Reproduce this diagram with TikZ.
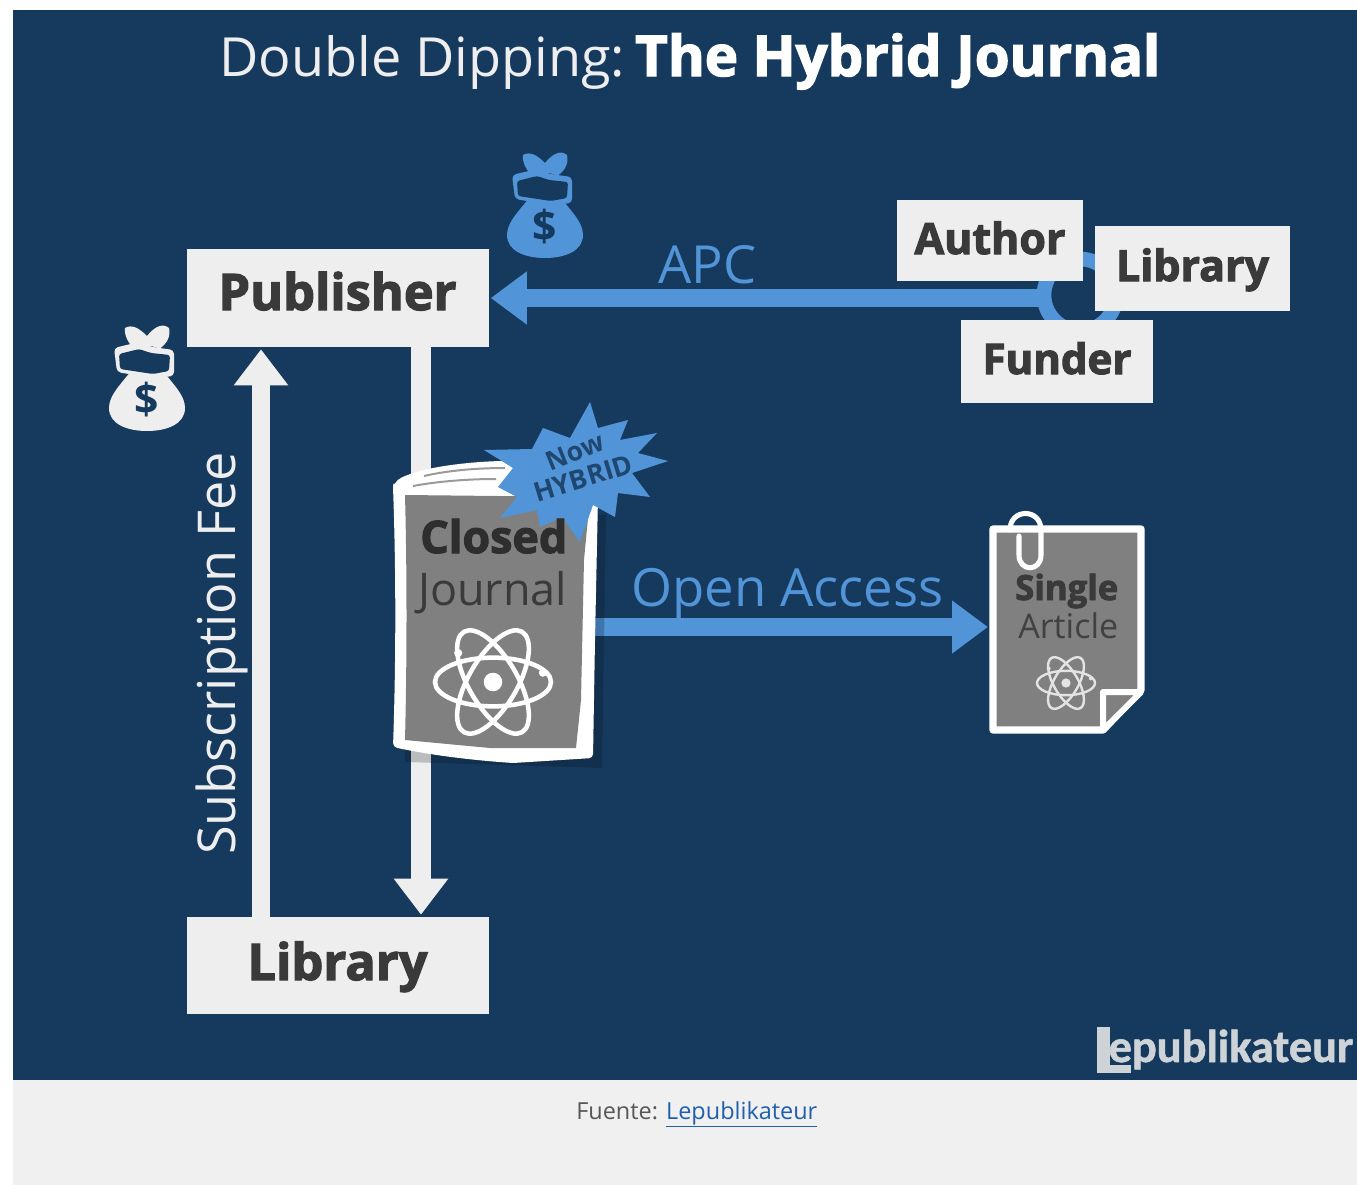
\documentclass[tikz,border=0pt]{standalone}
\usepackage{fontspec}
\usepackage{graphicx}
\usetikzlibrary{arrows.meta,calc,backgrounds}
\setmainfont{Open Sans}
\font\heavyf="Open Sans/B:embolden=2.5" at 30pt
\newfontfamily\logofont[BoldFeatures={FakeBold=1.2}]{Carlito}
\newcommand{\fitw}[2]{\resizebox{\dimexpr #1pt*3/4\relax}{!}{#2}}
\definecolor{navy}{HTML}{163A5E}
\definecolor{skyb}{HTML}{5294D8}
\definecolor{paper}{HTML}{EEEEEE}
\definecolor{ink}{HTML}{3A3A3A}
\definecolor{panel}{HTML}{808080}
\tikzset{
  pxbox/.style={fill=paper,inner sep=0pt,text=ink,align=center,font=\heavyf},
  label/.style={inner sep=0pt,anchor=base west,font=\fontsize{30}{30}\selectfont},
  fatw/.style={draw=paper,line width=13.5pt,-{Triangle[length=27pt,width=39pt]}},
  fatb/.style={draw=skyb,line width=13pt,-{Triangle[length=27pt,width=38pt]}},
  pics/moneybag/.style={code={
    \fill[#1] (-15,-8) .. controls (-28,8) and (-38,18) .. (-38,30) .. controls (-38,46) and (-20,53) .. (0,53) .. controls (20,53) and (38,46) .. (38,30) .. controls (38,18) and (28,8) .. (15,-8) -- cycle;
    \fill[#1,rounded corners=3pt] (-33,-30) -- (-8,-36) -- (5,-31) -- (27,-28) -- (27,-2) -- (6,0) -- (-30,-6) -- cycle;
    \fill[navy,rounded corners=2pt] (-28,-24) -- (-8,-29) -- (4,-25) -- (23,-23) -- (22,-7) -- (6,-4) -- (-27,-9) -- cycle;
    \fill[#1] (-22,-50) .. controls (-15,-54) and (-8,-50) .. (0,-42) .. controls (8,-52) and (16,-55) .. (22,-50) .. controls (24,-42) and (20,-34) .. (12,-29) .. controls (6,-33) and (-6,-34) .. (-12,-28) .. controls (-18,-34) and (-23,-42) .. (-22,-50) -- cycle;
    \node[inner sep=0pt,text=navy,font=\bfseries\fontsize{32}{32}\selectfont] at (0,22) {\$};
  }},
  pics/atom/.style n args={3}{code={
    \foreach \a in {0,60,-60}
      \draw[#1,line width=#2] (0,0) ellipse[x radius=#3,y radius=0.42*#3,rotate=\a];
    \fill[#1] (0,0) circle[radius=0.16*#3];
    \fill[#1] (-0.6*#3,-0.5*#3) circle[radius=0.07*#3];
    \fill[#1] (0.86*#3,-0.16*#3) circle[radius=0.07*#3];
  }}
}
\begin{document}
\begin{tikzpicture}[x=0.75pt,y=-0.75pt]
\useasboundingbox (0,0) rectangle (1357,1185);
% boxes
\node[pxbox,minimum width=226.5pt,text height=45.75pt,text depth=27.75pt] (publisher) at (337.5,298) {\fitw{238}{Publisher}};
\node[pxbox,minimum width=226.5pt,text height=47.25pt,text depth=25.5pt] (library) at (337.5,965.5) {\fitw{180}{Library}};
\node[pxbox,minimum width=139.5pt,text height=40.5pt,text depth=20.25pt] (author) at (990,240.5) {\fitw{151}{Author}};
\node[pxbox,minimum width=146.25pt,text height=41.25pt,text depth=22.5pt] (library2) at (1192.5,268.5) {\fitw{153}{Library}};
\node[pxbox,minimum width=144pt,text height=40.5pt,text depth=21.75pt] (funder) at (1057,361.5) {\fitw{149}{Funder}};
\coordinate (hub) at (1080,295);
\coordinate (apcstart) at (1042,298);
\coordinate (jright) at (594,627);
\coordinate (artleft) at (988,627);
\begin{pgfonlayer}{background}
  \fill[white] (0,0) rectangle (1357,1185);
  \fill[navy] (13,10) rectangle (1357,1080);
  \fill[black!6] (13,1080) rectangle (1357,1185);
  \draw[skyb,line width=11pt] (hub) circle[radius=36];
\end{pgfonlayer}
% title
\node[label,text=paper] (t1) at (219,76) {\fitw{406}{Double Dipping:}};
\node[label,text=white,font=\heavyf] (t2) at (635,76) {\fitw{525}{The Hybrid Journal}};
% connectors
\draw[fatb] (apcstart) -- ($(publisher.east |- apcstart)+(2,0)$);
\draw[fatw] ($(library.north)+(-76.5,0)$) -- ($(publisher.south)+(-76.5,2)$);
\draw[fatw,line width=15pt] ($(publisher.south)+(83.5,-2)$) -- ($(library.north)+(83.5,-2)$);
\draw[fatb] (jright) -- (artleft);
% labels
\node[label,text=skyb] (apc) at (658,283) {\fitw{98}{APC}};
\node[label,text=skyb] (oa) at (631,606) {\fitw{312}{Open Access}};
\node[label,text=paper,rotate=90] (sub) at (235,855) {\fitw{403}{Subscription Fee}};
% money bags
\pic at (545,205) {moneybag=skyb};
\pic at (147,378) {moneybag=paper};
% journal
\fill[black!80!navy,opacity=.22] (405,505) -- (606,515) -- (602,768) -- (405,762) -- cycle;
\fill[white,rounded corners=3pt] (393,487) .. controls (398,478) and (405,476) .. (413,473) .. controls (440,465) and (480,461) .. (510,461) -- (598,497) -- (595,640) -- (593,758) -- (513,763) .. controls (470,760) and (430,755) .. (393,747) .. controls (396,660) and (396,570) .. (393,487) -- cycle;
\fill[panel] (405,495) -- (590,497) -- (584,560) -- (581,700) -- (576,748) -- (490,748) -- (405,740) .. controls (407,660) and (407,570) .. (405,495) -- cycle;
\draw[panel!80!white,line width=1.5pt] (413,486) .. controls (440,481) and (470,479) .. (496,479);
\draw[panel!80!white,line width=1.5pt] (424,476) .. controls (450,470) and (480,468) .. (505,468);
% burst
\fill[skyb] (484,450) -- (532,449) -- (543,428) -- (570,438) -- (590,402) -- (598,428) -- (628,420) -- (620,440) -- (657,433) -- (638,453) -- (668,461) -- (632,473) -- (650,497) -- (618,493) -- (615,517) -- (593,505) -- (580,542) -- (562,517) -- (540,527) -- (537,510) -- (500,518) -- (517,497) -- (498,487) -- (513,468) -- cycle;
\node[inner sep=0pt,text=navy!85!skyb,rotate=22,font=\bfseries\fontsize{30}{30}\selectfont] (now) at (575,452) {\fitw{60}{Now}};
\node[inner sep=0pt,text=navy!85!skyb,rotate=17,font=\bfseries\fontsize{30}{30}\selectfont] (hyb) at (583,478) {\fitw{102}{HYBRID}};
\node[label,text=ink!80!black,font=\heavyf] (closed) at (420,553) {\fitw{147}{Closed}};
\node[label,text=ink] (jn) at (418,605) {\fitw{149}{Journal}};
\pic at (493,682) {atom={white}{3.4pt}{58}};
% article
\draw[white,line width=5.5pt,fill=panel,line join=round] (993,529) -- (1141,529) -- (1141,690) -- (1103,730) -- (993,730) -- cycle;
\draw[white,line width=4.5pt,line join=round,fill=panel] (1103,730) -- (1103,692) -- (1141,692) -- cycle;
\draw[white,line width=3.8pt,line cap=round] (1010,530) .. controls (1010,508) and (1041,508) .. (1041,530) -- (1041,555) .. controls (1041,572) and (1019,572) .. (1019,555) -- (1019,536);
\node[label,text=ink,font=\heavyf] (single) at (1015,600) {\fitw{103}{Single}};
\node[label,text=ink!90!panel] (article) at (1018,638) {\fitw{100}{Article}};
\pic at (1066,683) {atom={paper!90!panel}{1.8pt}{29}};
% logo
\node[label,text=paper!85!navy,font=\logofont\bfseries\fontsize{30}{30}\selectfont] (logo) at (1097,1062) {\fitw{256}{lepublikateur}};
\fill[paper!85!navy] (1097,1027) rectangle (1110,1073);
\fill[paper!85!navy] (1097,1065) rectangle (1131,1073);
% source
\node[label,text=ink!85!white] (src) at (576,1119) {\fitw{241}{Fuente: \textcolor[HTML]{1F5FAE}{\underline{Lepublikateur}}}};
\end{tikzpicture}
\end{document}
